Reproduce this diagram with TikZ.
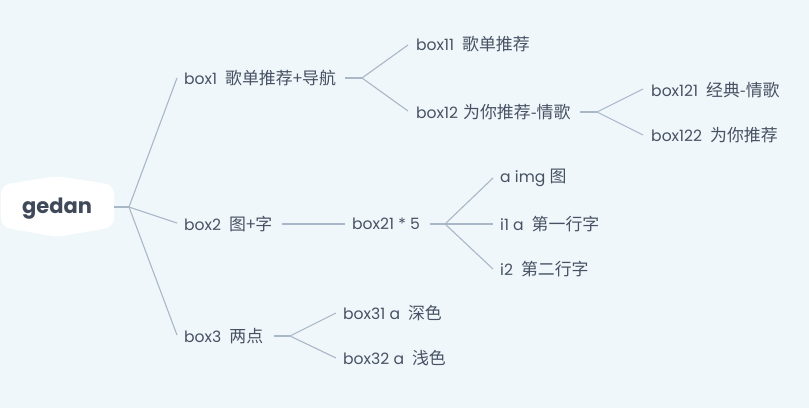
\documentclass[tikz,border=0pt]{standalone}
\usepackage{fontspec}
\setmainfont{Poppins}
\newfontfamily\cjk{Noto Sans CJK SC}
\newcommand\zhtxt{\cjk\fontsize{16.9}{18}\selectfont}
\newcommand\gap{\hspace{8pt}}
\definecolor{bgc}{HTML}{F0F7FA}
\definecolor{txt}{HTML}{465163}
\definecolor{lnc}{HTML}{A9B7C8}
\begin{document}
\begin{tikzpicture}[x=1pt,y=-1pt,
  lbl/.style={anchor=west,inner sep=0pt,text=txt,font=\fontsize{15.6}{18}\selectfont},
  conn/.style={draw=lnc,line width=1.1pt}]
\fill[bgc] (0,0) rectangle (809,408);
\useasboundingbox (0,0) rectangle (809,408);
% root
\fill[white,rounded corners=9pt] (1,205) -- (1,185) -- (57,176) -- (114,185) -- (114,227) -- (57,237) -- (1,227) -- cycle;
\node[inner sep=0pt,text=txt!90!black,font=\fontsize{21}{22}\selectfont\bfseries] (root) at (57,209) {gedan};
\coordinate (rootE) at (114,207);
\coordinate (j0) at (129,207);
\draw[conn,line width=2pt] (rootE) -- (j0);
% level 1
\node[lbl] (b1) at (184,78) {box1\gap{\zhtxt 歌单推荐+导航}};
\node[lbl] (b2) at (184,224) {box2\gap{\zhtxt 图+字}};
\node[lbl] (b3) at (184,336) {box3\gap{\zhtxt 两点}};
\coordinate (e1) at (177,78);
\coordinate (e2) at (177,223);
\coordinate (e3) at (177,335);
\draw[conn] (j0) -- (e1);
\draw[conn] (j0) -- (e2);
\draw[conn] (j0) -- (e3);
% box1 children
\node[lbl] (b11) at (416,44) {box11\gap{\zhtxt 歌单推荐}};
\node[lbl] (b12) at (416,112) {box12\hspace{5pt}{\zhtxt 为你推荐-情歌}};
\coordinate (j1) at (362,78);
\draw[conn] (345,78) -- (j1);
\draw[conn] (j1) -- (408,45);
\draw[conn] (j1) -- (408,111);
% box12 children
\node[lbl] (b121) at (651,90) {box121\gap{\zhtxt 经典-情歌}};
\node[lbl] (b122) at (651,135) {box122\gap{\zhtxt 为你推荐}};
\coordinate (j12) at (597,112);
\draw[conn] (580,112) -- (j12);
\draw[conn] (j12) -- (643,89);
\draw[conn] (j12) -- (643,135);
% box2 children
\node[lbl] (b21) at (352,224) {box21 * 5};
\draw[conn] (282,224) -- ([xshift=-7pt]b21.west);
\coordinate (j21) at (445,224);
\draw[conn] (430,224) -- (j21);
\node[lbl] (a1) at (500,178) {a img {\zhtxt 图}};
\node[lbl] (a2) at (500,224) {i1 a\gap{\zhtxt 第一行字}};
\node[lbl] (a3) at (500,269) {i2\gap{\zhtxt 第二行字}};
\draw[conn] (j21) -- ([xshift=-7pt]a1.west);
\draw[conn] (j21) -- ([xshift=-7pt]a2.west);
\draw[conn] (j21) -- ([xshift=-7pt]a3.west);
% box3 children
\node[lbl] (b31) at (343,313) {box31 a\gap{\zhtxt 深色}};
\node[lbl] (b32) at (343,358) {box32 a\gap{\zhtxt 浅色}};
\coordinate (j3) at (290,336);
\draw[conn] (274,336) -- (j3);
\draw[conn] (j3) -- ([xshift=-7pt]b31.west);
\draw[conn] (j3) -- ([xshift=-7pt]b32.west);
\end{tikzpicture}
\end{document}
